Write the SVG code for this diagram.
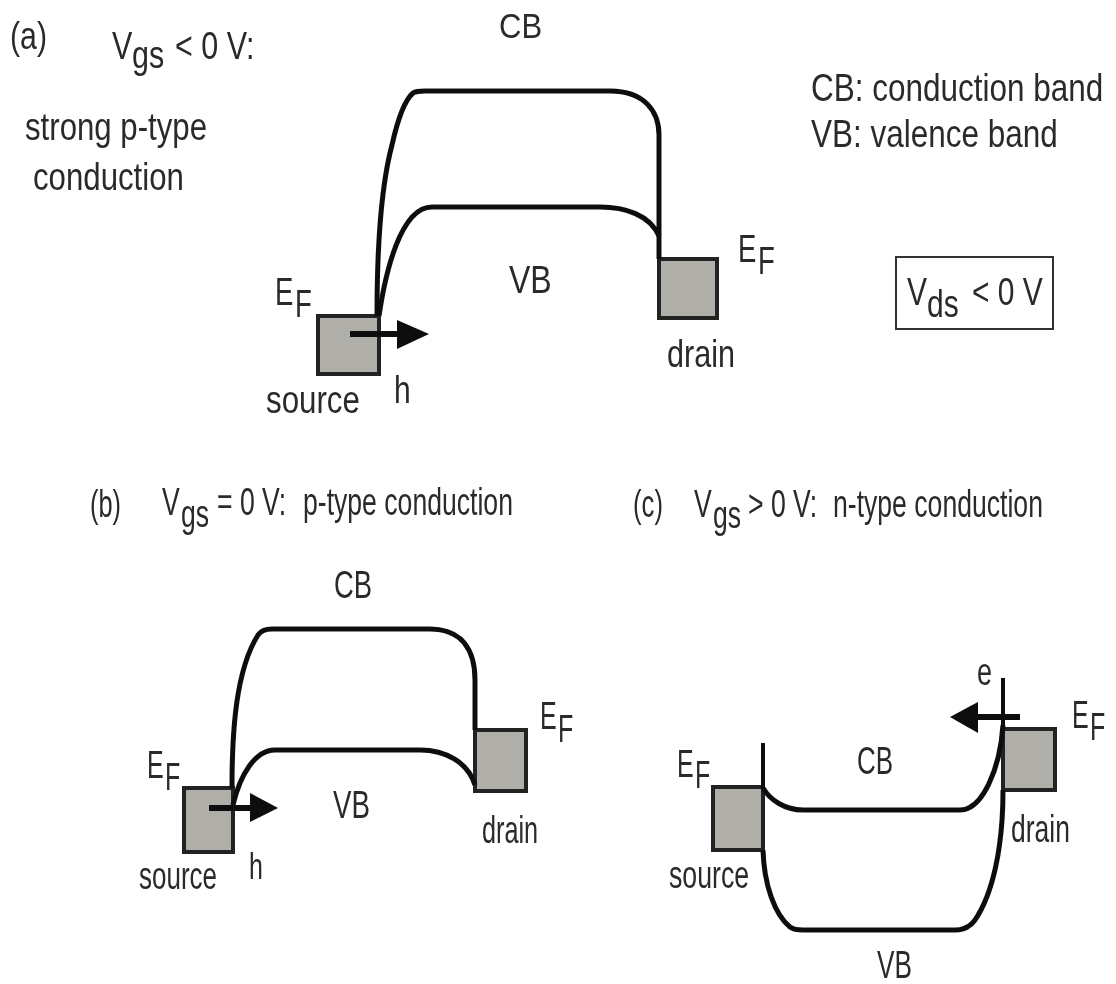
<svg xmlns="http://www.w3.org/2000/svg" width="1116" height="984" viewBox="0 0 1116 984">
<defs>
<style>
text{font-family:"Liberation Sans",Arial,sans-serif;fill:#2b2b2b}
.band{fill:none;stroke:#111;stroke-width:5}
.thin{stroke-width:4}
.box{fill:#b0aea8;stroke:#222;stroke-width:4}
.flow{stroke:#111;stroke-width:6;fill:none}
.head{fill:#111}
</style>
<filter id="soft" x="0" y="0" width="100%" height="100%"><feGaussianBlur stdDeviation="0.7"/></filter>
</defs>
<rect width="1116" height="984" fill="#fff"/>
<g filter="url(#soft)">
<g id="labels">
<text transform="translate(10 49) scale(1 1.25)" font-size="30.3">(a)</text>
<text transform="translate(112 59) scale(1 1.246)" font-size="30.5"><tspan x="0" y="0">V</tspan><tspan x="20" y="7.2">gs</tspan><tspan x="63" y="0">&lt; 0 V:</tspan></text>
<text transform="translate(25 140) scale(1 1.22)" font-size="31.2">strong p-type</text>
<text transform="translate(33 190) scale(1 1.22)" font-size="31.2">conduction</text>
<text transform="translate(499 38) scale(1 1.16)" font-size="31">CB</text>
<text transform="translate(811 101) scale(1 1.206)" font-size="31.5">CB: conduction band</text>
<text transform="translate(811 147) scale(1 1.206)" font-size="31.5">VB: valence band</text>
<text transform="translate(90 517) scale(1 1.5)" font-size="25.4">(b)</text>
<text transform="translate(162 515) scale(1 1.43)" font-size="26.6"><tspan x="0" y="0">V</tspan><tspan x="19" y="8.4">gs</tspan><tspan x="55" y="0">= 0 V:</tspan><tspan x="141" y="0">p-type conduction</tspan></text>
<text transform="translate(633 517) scale(1 1.48)" font-size="25.7">(c)</text>
<text transform="translate(694 517) scale(1 1.43)" font-size="26.6"><tspan x="0" y="0">V</tspan><tspan x="19" y="7.7">gs</tspan><tspan x="54" y="0">&gt; 0 V:</tspan><tspan x="139" y="0">n-type conduction</tspan></text>
</g>
<g id="vds-box">
<rect x="896" y="257" width="157" height="72" fill="#fff" stroke="#333" stroke-width="2"/>
<text transform="translate(907 305) scale(1 1.267)" font-size="30"><tspan x="0" y="0">V</tspan><tspan x="20" y="9.5">ds</tspan><tspan x="65" y="0">&lt; 0 V</tspan></text>
</g>
<g id="a-source"><rect class="box" x="318" y="316" width="61" height="58"/>
<text transform="translate(266 413) scale(1 1.21)" font-size="31.3">source</text>
<text transform="translate(275 305) scale(1 1.38)" font-size="27.5"><tspan x="0" y="0">E</tspan><tspan x="20" y="8.7">F</tspan></text>
<text transform="translate(394 403) scale(1 1.27)" font-size="30">h</text></g>
<g id="a-drain"><rect class="box" x="659" y="259" width="58" height="59"/>
<text transform="translate(667 367) scale(1 1.24)" font-size="30.6">drain</text>
<text transform="translate(738 262) scale(1 1.38)" font-size="27.5"><tspan x="0" y="0">E</tspan><tspan x="20" y="8.7">F</tspan></text></g>
<g id="a-bands-labels"><text transform="translate(509 293) scale(1 1.19)" font-size="32">VB</text></g>
<g id="b-source"><rect class="box" x="184" y="788" width="49" height="64"/>
<text transform="translate(139 889) scale(1 1.46)" font-size="26">source</text>
<text transform="translate(147 778) scale(1 1.52)" font-size="25"><tspan x="0" y="0">E</tspan><tspan x="18" y="7.9">F</tspan></text>
<text transform="translate(249 879) scale(1 1.5)" font-size="25">h</text></g>
<g id="b-drain"><rect class="box" x="475" y="730" width="51" height="61"/>
<text transform="translate(482 843) scale(1 1.51)" font-size="25.2">drain</text>
<text transform="translate(540 729) scale(1 1.52)" font-size="25"><tspan x="0" y="0">E</tspan><tspan x="18" y="8.5">F</tspan></text></g>
<g id="b-bands-labels"><text transform="translate(334 598) scale(1 1.39)" font-size="27.4">CB</text><text transform="translate(333 818) scale(1 1.37)" font-size="27.7">VB</text></g>
<g id="c-source"><rect class="box" x="713" y="787" width="50" height="63"/>
<text transform="translate(669 888) scale(1 1.42)" font-size="26.7">source</text>
<text transform="translate(677 777) scale(1 1.52)" font-size="25"><tspan x="0" y="0">E</tspan><tspan x="18" y="7.2">F</tspan></text></g>
<g id="c-drain"><rect class="box" x="1003" y="729" width="52" height="61"/>
<text transform="translate(1011 842) scale(1 1.43)" font-size="26.5">drain</text>
<text transform="translate(1072 728) scale(1 1.52)" font-size="25"><tspan x="0" y="0">E</tspan><tspan x="18" y="7.9">F</tspan></text>
<text transform="translate(977 685) scale(1 1.41)" font-size="27">e</text></g>
<g id="c-bands-labels"><text transform="translate(857 774) scale(1 1.46)" font-size="26">CB</text><text transform="translate(877 978) scale(1 1.45)" font-size="26.2">VB</text></g>
<g id="connectors">
<path class="band" d="M377 316C377 250 380 190 392 145C398 118 405 100 413 93Q416 91 425 91L610 91C645 91 659 112 659 135L659 259"/>
<path class="band" d="M379 316C385 275 400 207 432 207L600 207C625 207 650 215 659 236"/>
<path class="flow" d="M350 334H400"/><polygon class="head" points="397,320 429,334 397,349"/>
<path class="band" d="M232 788C232 730 236 670 258 635Q262 629 272 629L430 629C462 629 475 650 475 680V730"/>
<path class="band" d="M233 805C240 775 255 750 275 750L420 750C445 750 468 762 475 785"/>
<path class="flow" d="M209 808H252"/><polygon class="head" points="250,793 278,808 250,822"/>
<path class="band thin" d="M763 743V790"/>
<path class="band" d="M763 788C770 800 785 810 803 810L960 810C982 810 1000 770 1003 725"/>
<path class="band thin" d="M1003 728V678"/>
<path class="band" d="M763 850C764 885 775 915 790 927Q794 930 803 930L955 930Q968 930 975 920C992 895 1003 850 1003 790"/>
<path class="flow" d="M1020 717H975"/><polygon class="head" points="978,702 950,717 978,733"/>
</g>
</g>
</svg>
